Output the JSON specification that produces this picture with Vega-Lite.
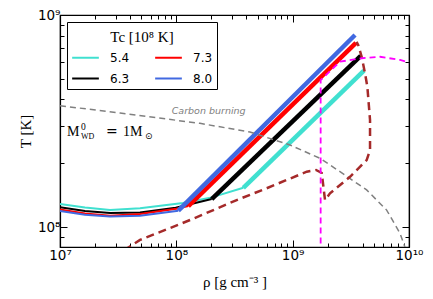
{
  "$schema": "https://vega.github.io/schema/vega-lite/v6.json",
  "width": 349,
  "height": 232,
  "autosize": {"type": "none"},
  "padding": {"left": 60, "top": 15, "right": 24, "bottom": 52},
  "background": "white",
  "config": {
    "view": {"stroke": "black", "strokeWidth": 1.2}
  },
  "datasets": {
    "tracks": [
      {"Tc": "5.4", "phase": "cool", "i": 1, "rho": 1.0e7, "T": 1.284e8},
      {"Tc": "5.4", "phase": "cool", "i": 2, "rho": 1.641e7, "T": 1.236e8},
      {"Tc": "5.4", "phase": "cool", "i": 3, "rho": 2.692e7, "T": 1.202e8},
      {"Tc": "5.4", "phase": "cool", "i": 4, "rho": 4.875e7, "T": 1.225e8},
      {"Tc": "5.4", "phase": "cool", "i": 5, "rho": 1.14e8, "T": 1.297e8},
      {"Tc": "5.4", "phase": "cool", "i": 6, "rho": 2.014e8, "T": 1.38e8},
      {"Tc": "5.4", "phase": "cool", "i": 7, "rho": 3.767e8, "T": 1.531e8},
      {"Tc": "5.4", "phase": "heat", "i": 8, "rho": 3.767e8, "T": 1.531e8},
      {"Tc": "5.4", "phase": "heat", "i": 9, "rho": 4.1e9, "T": 5.46e8},
      {"Tc": "6.3", "phase": "cool", "i": 1, "rho": 1.0e7, "T": 1.239e8},
      {"Tc": "6.3", "phase": "cool", "i": 2, "rho": 1.641e7, "T": 1.191e8},
      {"Tc": "6.3", "phase": "cool", "i": 3, "rho": 2.692e7, "T": 1.164e8},
      {"Tc": "6.3", "phase": "cool", "i": 4, "rho": 4.875e7, "T": 1.172e8},
      {"Tc": "6.3", "phase": "cool", "i": 5, "rho": 9.87e7, "T": 1.233e8},
      {"Tc": "6.3", "phase": "cool", "i": 6, "rho": 2.014e8, "T": 1.355e8},
      {"Tc": "6.3", "phase": "heat", "i": 7, "rho": 2.014e8, "T": 1.355e8},
      {"Tc": "6.3", "phase": "heat", "i": 8, "rho": 3.846e9, "T": 6.41e8},
      {"Tc": "7.3", "phase": "cool", "i": 1, "rho": 1.0e7, "T": 1.211e8},
      {"Tc": "7.3", "phase": "cool", "i": 2, "rho": 1.641e7, "T": 1.159e8},
      {"Tc": "7.3", "phase": "cool", "i": 3, "rho": 2.692e7, "T": 1.13e8},
      {"Tc": "7.3", "phase": "cool", "i": 4, "rho": 4.875e7, "T": 1.151e8},
      {"Tc": "7.3", "phase": "cool", "i": 5, "rho": 1.0e8, "T": 1.22e8},
      {"Tc": "7.3", "phase": "cool", "i": 6, "rho": 1.268e8, "T": 1.256e8},
      {"Tc": "7.3", "phase": "heat", "i": 7, "rho": 1.268e8, "T": 1.256e8},
      {"Tc": "7.3", "phase": "heat", "i": 8, "rho": 3.5e9, "T": 7.38e8},
      {"Tc": "8.0", "phase": "cool", "i": 1, "rho": 1.0e7, "T": 1.189e8},
      {"Tc": "8.0", "phase": "cool", "i": 2, "rho": 1.641e7, "T": 1.143e8},
      {"Tc": "8.0", "phase": "cool", "i": 3, "rho": 2.692e7, "T": 1.122e8},
      {"Tc": "8.0", "phase": "cool", "i": 4, "rho": 4.875e7, "T": 1.13e8},
      {"Tc": "8.0", "phase": "cool", "i": 5, "rho": 1.04e8, "T": 1.194e8},
      {"Tc": "8.0", "phase": "heat", "i": 6, "rho": 1.04e8, "T": 1.194e8},
      {"Tc": "8.0", "phase": "heat", "i": 7, "rho": 3.436e9, "T": 8.05e8}
    ],
    "carbon": [
      {"i": 1, "rho": 1.0e7, "T": 3.733e8},
      {"i": 2, "rho": 3.281e7, "T": 3.451e8},
      {"i": 3, "rho": 1.596e8, "T": 3.083e8},
      {"i": 4, "rho": 4.295e8, "T": 2.805e8},
      {"i": 5, "rho": 9.484e8, "T": 2.438e8},
      {"i": 6, "rho": 1.718e9, "T": 2.109e8},
      {"i": 7, "rho": 2.553e9, "T": 1.824e8},
      {"i": 8, "rho": 4.325e9, "T": 1.496e8},
      {"i": 9, "rho": 6.427e9, "T": 1.202e8},
      {"i": 10, "rho": 8.375e9, "T": 9.333e7},
      {"i": 11, "rho": 9.419e9, "T": 7.78e7}
    ],
    "brown": [
      {"i": 1, "rho": 3.548e7, "T": 7.762e7},
      {"i": 2, "rho": 4.875e7, "T": 8.69e7},
      {"i": 3, "rho": 1.312e8, "T": 1.079e8},
      {"i": 4, "rho": 3.304e8, "T": 1.34e8},
      {"i": 5, "rho": 5.984e8, "T": 1.524e8},
      {"i": 6, "rho": 1.321e9, "T": 1.824e8},
      {"i": 7, "rho": 1.589e9, "T": 1.858e8},
      {"i": 8, "rho": 1.778e9, "T": 1.799e8},
      {"i": 9, "rho": 1.897e9, "T": 1.34e8},
      {"i": 10, "rho": 2.094e9, "T": 1.442e8},
      {"i": 11, "rho": 3.112e9, "T": 1.726e8},
      {"i": 12, "rho": 4.325e9, "T": 2.07e8},
      {"i": 13, "rho": 4.624e9, "T": 2.307e8},
      {"i": 14, "rho": 4.624e9, "T": 3.199e8},
      {"i": 15, "rho": 4.385e9, "T": 4.592e8},
      {"i": 16, "rho": 4.188e9, "T": 5.309e8},
      {"i": 17, "rho": 3.917e9, "T": 6.353e8},
      {"i": 18, "rho": 3.664e9, "T": 7.211e8},
      {"i": 19, "rho": 3.54e9, "T": 7.464e8}
    ],
    "magenta": [
      {"i": 1, "rho": 1.74e9, "T": 7.5e7},
      {"i": 2, "rho": 1.74e9, "T": 4.932e8},
      {"i": 3, "rho": 2.553e9, "T": 6.026e8},
      {"i": 4, "rho": 3.926e9, "T": 6.252e8},
      {"i": 5, "rho": 5.636e9, "T": 6.353e8},
      {"i": 6, "rho": 8.375e9, "T": 6.138e8},
      {"i": 7, "rho": 1.0e10, "T": 5.957e8}
    ],
    "notes": [
      {"label": "Carbon burning", "rho": 9.12e7, "T": 3.54e8}
    ],
    "mass": [
      {"rho": 1.149e7, "T": 2.687e8}
    ]
  },
  "layer": [
    {
      "data": {"name": "tracks"},
      "mark": {"type": "line", "clip": true, "strokeCap": "butt"},
      "encoding": {
        "x": {
          "field": "rho", "type": "quantitative",
          "scale": {"type": "log", "domain": [1e7, 1e10]},
          "axis": {
            "orient": "bottom",
            "grid": false,
            "domainColor": "black",
            "domainWidth": 1.2,
            "tickColor": "black",
            "tickWidth": 1,
            "values": [1e7, 2e7, 3e7, 4e7, 5e7, 6e7, 7e7, 8e7, 9e7, 1e8, 2e8, 3e8, 4e8, 5e8, 6e8, 7e8, 8e8, 9e8, 1e9, 2e9, 3e9, 4e9, 5e9, 6e9, 7e9, 8e9, 9e9, 1e10],
            "labelExpr": "datum.value == 1e7 ? '10⁷' : datum.value == 1e8 ? '10⁸' : datum.value == 1e9 ? '10⁹' : datum.value == 1e10 ? '10¹⁰' : ''",
            "tickSize": {"condition": {"test": "abs(log(datum.value)/LN10 - round(log(datum.value)/LN10)) < 0.001", "value": -7}, "value": -4},
            "labelFont": "DejaVu Sans",
            "labelFontSize": 13.5,
            "labelColor": "black",
            "labelOverlap": false,
            "labelBound": false,
            "labelFlush": false,
            "labelPadding": 8,
            "title": "ρ  [g cm⁻³ ]",
            "titleFont": "Liberation Serif",
            "titleFontSize": 15,
            "titleFontWeight": "normal",
            "titleColor": "black",
            "titlePadding": 10
          }
        },
        "y": {
          "field": "T", "type": "quantitative",
          "scale": {"type": "log", "domain": [8.05e7, 1e9]},
          "axis": {
            "orient": "left",
            "grid": false,
            "domainColor": "black",
            "domainWidth": 1.2,
            "tickColor": "black",
            "tickWidth": 1,
            "values": [8e7, 9e7, 1e8, 2e8, 3e8, 4e8, 5e8, 6e8, 7e8, 8e8, 9e8, 1e9],
            "labelExpr": "datum.value == 1e8 ? '10⁸' : datum.value == 1e9 ? '10⁹' : ''",
            "tickSize": {"condition": {"test": "abs(log(datum.value)/LN10 - round(log(datum.value)/LN10)) < 0.001", "value": -7}, "value": -4},
            "labelFont": "DejaVu Sans",
            "labelFontSize": 13.5,
            "labelColor": "black",
            "labelOverlap": false,
            "labelBound": false,
            "labelFlush": false,
            "labelPadding": 7,
            "title": "T [K]",
            "titleFont": "Liberation Serif",
            "titleFontSize": 15,
            "titleFontWeight": "normal",
            "titleColor": "black",
            "titlePadding": 4
          }
        },
        "color": {
          "field": "Tc", "type": "nominal",
          "scale": {"domain": ["5.4", "6.3", "7.3", "8.0"], "range": ["#40e0d0", "#000000", "#ff0000", "#4169e1"]},
          "legend": {
            "title": "Tc [10⁸  K]",
            "orient": "top-left",
            "offset": 7,
            "columns": 2,
            "fillColor": "white",
            "strokeColor": "black",
            "padding": 4,
            "cornerRadius": 0,
            "titleFont": "Liberation Serif",
            "titleFontSize": 15,
            "titleFontWeight": "normal",
            "titleColor": "black",
            "titleAnchor": "middle",
            "titleBaseline": "line-top",
            "titleLineHeight": 24,
            "titlePadding": 2,
            "labelFont": "DejaVu Sans",
            "labelFontSize": 12,
            "labelColor": "black",
            "labelOffset": 10,
            "symbolType": "stroke",
            "symbolSize": 713,
            "symbolStrokeWidth": 2,
            "columnPadding": 21,
            "rowPadding": -2
          }
        },
        "strokeWidth": {
          "field": "phase", "type": "nominal",
          "scale": {"domain": ["cool", "heat"], "range": [2, 4.5]},
          "legend": null
        },
        "order": {"field": "i", "type": "quantitative"}
      }
    },
    {
      "data": {"name": "carbon"},
      "mark": {"type": "line", "clip": true, "color": "gray", "strokeWidth": 1.5, "strokeDash": [6, 4]},
      "encoding": {
        "x": {
          "field": "rho", "type": "quantitative",
          "scale": {"type": "log", "domain": [1e7, 1e10]},
          "axis": {
            "orient": "top",
            "grid": false,
            "domainColor": "black",
            "domainWidth": 1.2,
            "tickColor": "black",
            "tickWidth": 1,
            "values": [1e7, 2e7, 3e7, 4e7, 5e7, 6e7, 7e7, 8e7, 9e7, 1e8, 2e8, 3e8, 4e8, 5e8, 6e8, 7e8, 8e8, 9e8, 1e9, 2e9, 3e9, 4e9, 5e9, 6e9, 7e9, 8e9, 9e9, 1e10],
            "labels": false,
            "title": null,
            "tickSize": {"condition": {"test": "abs(log(datum.value)/LN10 - round(log(datum.value)/LN10)) < 0.001", "value": -7}, "value": -4}
          }
        },
        "y": {
          "field": "T", "type": "quantitative",
          "scale": {"type": "log", "domain": [8.05e7, 1e9]},
          "axis": {
            "orient": "right",
            "grid": false,
            "domainColor": "black",
            "domainWidth": 1.2,
            "tickColor": "black",
            "tickWidth": 1,
            "values": [8e7, 9e7, 1e8, 2e8, 3e8, 4e8, 5e8, 6e8, 7e8, 8e8, 9e8, 1e9],
            "labels": false,
            "title": null,
            "tickSize": {"condition": {"test": "abs(log(datum.value)/LN10 - round(log(datum.value)/LN10)) < 0.001", "value": -7}, "value": -4}
          }
        },
        "order": {"field": "i", "type": "quantitative"}
      }
    },
    {
      "data": {"name": "brown"},
      "mark": {"type": "line", "clip": true, "color": "#a52a2a", "strokeWidth": 2.5, "strokeDash": [8, 5]},
      "encoding": {
        "x": {"field": "rho", "type": "quantitative", "scale": {"type": "log", "domain": [1e7, 1e10]}, "axis": null},
        "y": {"field": "T", "type": "quantitative", "scale": {"type": "log", "domain": [8.05e7, 1e9]}, "axis": null},
        "order": {"field": "i", "type": "quantitative"}
      }
    },
    {
      "data": {"name": "magenta"},
      "mark": {"type": "line", "clip": true, "color": "#ff00ff", "strokeWidth": 1.8, "strokeDash": [6, 4]},
      "encoding": {
        "x": {"field": "rho", "type": "quantitative", "scale": {"type": "log", "domain": [1e7, 1e10]}, "axis": null},
        "y": {"field": "T", "type": "quantitative", "scale": {"type": "log", "domain": [8.05e7, 1e9]}, "axis": null},
        "order": {"field": "i", "type": "quantitative"}
      }
    },
    {
      "data": {"name": "notes"},
      "mark": {"type": "text", "font": "DejaVu Sans", "fontStyle": "italic", "fontSize": 9.5, "color": "gray", "align": "left", "baseline": "middle"},
      "encoding": {
        "x": {"field": "rho", "type": "quantitative", "scale": {"type": "log", "domain": [1e7, 1e10]}, "axis": null},
        "y": {"field": "T", "type": "quantitative", "scale": {"type": "log", "domain": [8.05e7, 1e9]}, "axis": null},
        "text": {"field": "label"}
      }
    },
    {
      "data": {"name": "mass"},
      "mark": {"type": "text", "font": "Liberation Serif", "fontSize": 14, "color": "black", "align": "left", "baseline": "alphabetic", "text": "M"},
      "encoding": {
        "x": {"field": "rho", "type": "quantitative", "scale": {"type": "log", "domain": [1e7, 1e10]}, "axis": null},
        "y": {"field": "T", "type": "quantitative", "scale": {"type": "log", "domain": [8.05e7, 1e9]}, "axis": null}
      }
    },
    {
      "data": {"name": "mass"},
      "mark": {"type": "text", "font": "Liberation Serif", "fontSize": 9.5, "color": "black", "align": "left", "baseline": "alphabetic", "text": "0", "dx": 14, "dy": -6},
      "encoding": {
        "x": {"field": "rho", "type": "quantitative", "scale": {"type": "log", "domain": [1e7, 1e10]}, "axis": null},
        "y": {"field": "T", "type": "quantitative", "scale": {"type": "log", "domain": [8.05e7, 1e9]}, "axis": null}
      }
    },
    {
      "data": {"name": "mass"},
      "mark": {"type": "text", "font": "Liberation Serif", "fontSize": 8, "color": "black", "align": "left", "baseline": "alphabetic", "text": "WD", "dx": 14, "dy": 2.5},
      "encoding": {
        "x": {"field": "rho", "type": "quantitative", "scale": {"type": "log", "domain": [1e7, 1e10]}, "axis": null},
        "y": {"field": "T", "type": "quantitative", "scale": {"type": "log", "domain": [8.05e7, 1e9]}, "axis": null}
      }
    },
    {
      "data": {"name": "mass"},
      "mark": {"type": "text", "font": "DejaVu Serif", "fontSize": 14, "color": "black", "align": "left", "baseline": "alphabetic", "text": "=", "dx": 39},
      "encoding": {
        "x": {"field": "rho", "type": "quantitative", "scale": {"type": "log", "domain": [1e7, 1e10]}, "axis": null},
        "y": {"field": "T", "type": "quantitative", "scale": {"type": "log", "domain": [8.05e7, 1e9]}, "axis": null}
      }
    },
    {
      "data": {"name": "mass"},
      "mark": {"type": "text", "font": "Liberation Serif", "fontSize": 14, "color": "black", "align": "left", "baseline": "alphabetic", "text": "1M", "dx": 56},
      "encoding": {
        "x": {"field": "rho", "type": "quantitative", "scale": {"type": "log", "domain": [1e7, 1e10]}, "axis": null},
        "y": {"field": "T", "type": "quantitative", "scale": {"type": "log", "domain": [8.05e7, 1e9]}, "axis": null}
      }
    },
    {
      "data": {"name": "mass"},
      "mark": {"type": "text", "font": "DejaVu Sans", "fontSize": 9, "color": "black", "align": "left", "baseline": "alphabetic", "text": "⊙", "dx": 78, "dy": 3},
      "encoding": {
        "x": {"field": "rho", "type": "quantitative", "scale": {"type": "log", "domain": [1e7, 1e10]}, "axis": null},
        "y": {"field": "T", "type": "quantitative", "scale": {"type": "log", "domain": [8.05e7, 1e9]}, "axis": null}
      }
    }
  ],
  "resolve": {"axis": {"x": "independent", "y": "independent"}}
}
